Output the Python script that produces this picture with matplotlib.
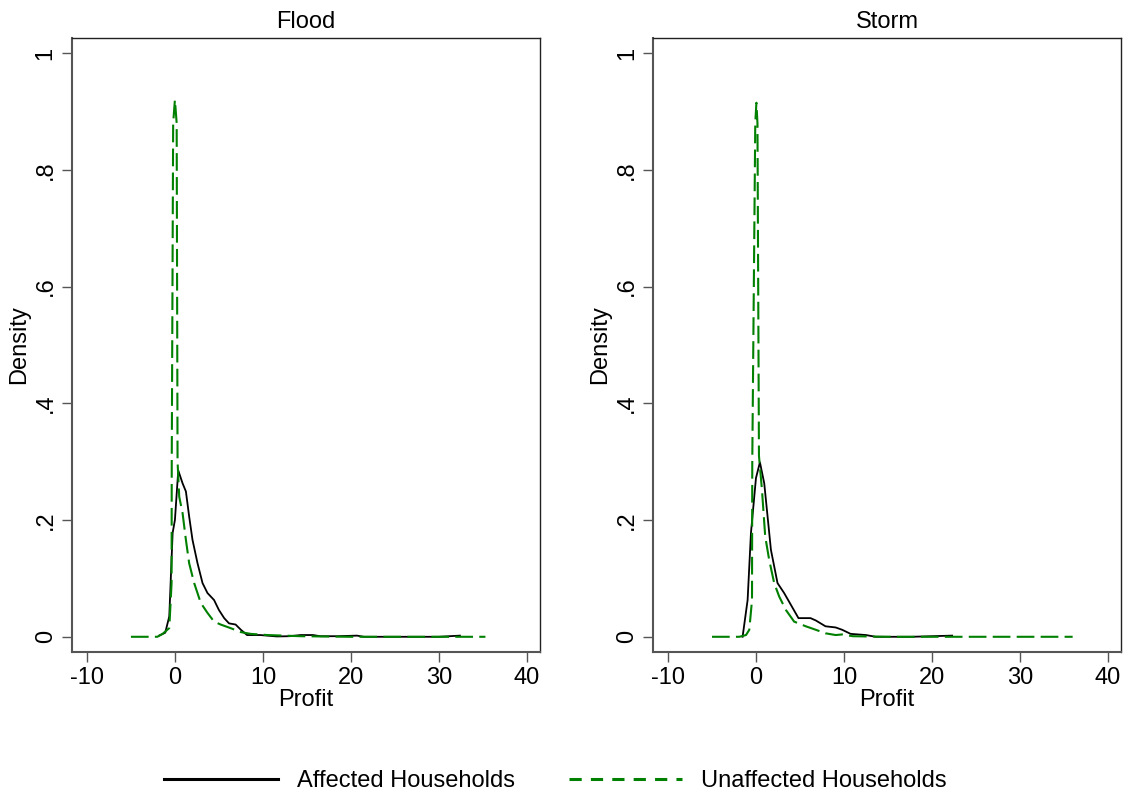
import matplotlib
matplotlib.use("Agg")
import matplotlib.pyplot as plt
from matplotlib.lines import Line2D

plt.rcParams['font.family'] = ['Liberation Sans', 'DejaVu Sans']
plt.rcParams['axes.unicode_minus'] = False

# kernel density curves (profit, density)
flood_aff_x = [-1.8, -1.1, -0.64, -0.26, 0.0, 0.38, 0.87, 1.25, 1.62, 2.0, 2.57, 3.14, 3.7, 4.45, 5.0,
               5.6, 6.15, 6.9, 7.5, 8.2, 9.7, 11.6, 13.0, 14.3, 15.7, 16.5, 18.5, 20.7, 21.5, 25, 28, 30, 32.4]
flood_aff_y = [0.002, 0.007, 0.035, 0.178, 0.2, 0.285, 0.263, 0.249, 0.206, 0.166, 0.126, 0.092, 0.075, 0.063, 0.046,
               0.032, 0.023, 0.021, 0.012, 0.003, 0.003, 0.0006, 0.001, 0.003, 0.003, 0.001, 0.001, 0.002, 0.0, 0.0, 0.0, 0.0, 0.002]

flood_unaff_x = [-5, -2.0, -1.4, -0.64, -0.38, -0.36, -0.2, 0.0, 0.2, 0.3, 0.49, 0.87, 1.25, 1.62, 2.19, 2.94,
                 3.7, 4.45, 5.2, 6.3, 7.5, 8.6, 10.5, 14.3, 20, 25, 30, 35.3]
flood_unaff_y = [0, 0, 0.005, 0.015, 0.092, 0.3, 0.88, 0.92, 0.88, 0.3, 0.24, 0.212, 0.166, 0.126, 0.092, 0.058,
                 0.041, 0.026, 0.021, 0.015, 0.008, 0.005, 0.003, 0.001, 0.0, 0.0, 0.0, 0.0]

storm_aff_x = [-1.52, -0.95, -0.57, 0.0, 0.45, 0.94, 1.32, 1.7, 2.45, 3.2, 3.96, 4.83, 6.2, 6.8, 7.9,
               9.06, 9.8, 10.76, 12.5, 13.6, 17.7, 20, 22.3]
storm_aff_y = [0, 0.063, 0.178, 0.272, 0.299, 0.263, 0.206, 0.149, 0.092, 0.075, 0.055, 0.032, 0.032, 0.028, 0.018,
               0.016, 0.012, 0.005, 0.003, 0.0, 0.0, 0.001, 0.002]

storm_unaff_x = [-5, -1.9, -1.13, -0.76, -0.45, -0.42, -0.08, 0.05, 0.17, 0.34, 0.68, 1.05, 1.5, 2.07, 2.64,
                 3.4, 4.34, 5.66, 6.8, 7.9, 9.06, 9.8, 11.0, 15, 20, 25, 30, 36.0]
storm_unaff_y = [0, 0, 0.003, 0.012, 0.063, 0.3, 0.88, 0.915, 0.88, 0.31, 0.252, 0.172, 0.132, 0.092, 0.069,
                 0.046, 0.026, 0.018, 0.012, 0.006, 0.003, 0.004, 0.001, 0, 0, 0, 0, 0]

panels = ["Flood", "Storm"]
x_ticks = [-10, 0, 10, 20, 30, 40]
y_ticks = [0, 0.2, 0.4, 0.6, 0.8, 1]
y_ticklabels = ["0", ".2", ".4", ".6", ".8", "1"]

green = '#008000'
dash = (8.5, 3)
fs = 17

fig = plt.figure(figsize=(11.32, 7.98), dpi=100)
ax1 = fig.add_axes([0.0636, 0.183, 0.4134, 0.7694])
ax2 = fig.add_axes([0.5769, 0.183, 0.4134, 0.7694])

data = [(flood_aff_x, flood_aff_y, flood_unaff_x, flood_unaff_y),
        (storm_aff_x, storm_aff_y, storm_unaff_x, storm_unaff_y)]

for ax, name, (ax_x, ax_y, ux, uy) in zip([ax1, ax2], panels, data):
    ax.plot(ax_x, ax_y, color='black', lw=1.3)
    ax.plot(ux, uy, color=green, lw=1.5, dashes=dash)
    ax.set_xlim(-11.7, 41.5)
    ax.set_ylim(-0.026, 1.026)
    ax.set_xticks(x_ticks)
    ax.set_yticks(y_ticks)
    ax.set_yticklabels(y_ticklabels, rotation=90, va='center', ha='right')
    ax.tick_params(labelsize=fs, length=7, width=1, color='#555555', pad=4)
    ax.set_title(name, fontsize=fs, pad=7)
    ax.set_xlabel("Profit", fontsize=fs, labelpad=0)
    ax.set_ylabel("Density", fontsize=fs, labelpad=3)
    for s in ['top', 'right']:
        ax.spines[s].set_color('#222222')
        ax.spines[s].set_linewidth(1.0)
    for s in ['left', 'bottom']:
        ax.spines[s].set_color('#555555')
        ax.spines[s].set_linewidth(1.5)

handles = [Line2D([], [], color='black', lw=2.2),
           Line2D([], [], color=green, lw=2.2, dashes=(4, 3))]
fig.legend(handles, ["Affected Households", "Unaffected Households"], loc='center',
           bbox_to_anchor=(0.4907, 0.021), ncol=2, frameon=False, fontsize=fs,
           handlelength=4.8, handletextpad=0.8, columnspacing=2.3)

fig.savefig("out.png", dpi=100, facecolor='white')
